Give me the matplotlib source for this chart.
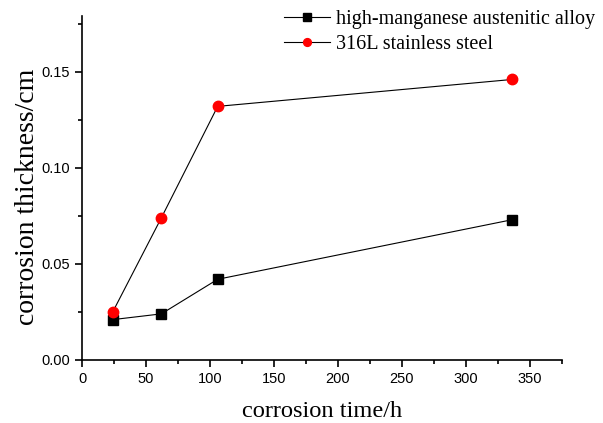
import matplotlib
matplotlib.use("Agg")
import matplotlib.pyplot as plt
from matplotlib.ticker import MultipleLocator, FormatStrFormatter

time_h = [24, 62, 106, 336]
high_mn = [0.021, 0.024, 0.042, 0.073]
ss316l = [0.025, 0.074, 0.132, 0.146]

fig = plt.figure(figsize=(6.03, 4.23), dpi=100)
ax = fig.add_axes([0.136, 0.149, 0.796, 0.813])

ax.plot(time_h, high_mn, color="black", lw=0.8, marker="s", ms=7,
        mfc="black", mec="black", label="high-manganese austenitic alloy")
ax.plot(time_h, ss316l, color="black", lw=0.8, marker="o", ms=7.5,
        mfc="red", mec="red", label="316L stainless steel")

ax.set_xlim(0, 375)
ax.set_ylim(0, 0.179)
ax.xaxis.set_major_locator(MultipleLocator(50))
ax.xaxis.set_minor_locator(MultipleLocator(25))
ax.yaxis.set_major_locator(MultipleLocator(0.05))
ax.yaxis.set_minor_locator(MultipleLocator(0.025))
ax.yaxis.set_major_formatter(FormatStrFormatter("%.2f"))

for side in ["top", "right"]:
    ax.spines[side].set_visible(False)
for side in ["left", "bottom"]:
    ax.spines[side].set_linewidth(1.2)
ax.tick_params(which="major", direction="out", length=5, width=1.2,
               labelsize=10.5)
ax.tick_params(which="minor", direction="out", length=3, width=1.2)
for lab in ax.get_xticklabels() + ax.get_yticklabels():
    lab.set_family("Liberation Sans")

ax.set_xlabel("corrosion time/h", family="Liberation Serif", fontsize=17.6,
              labelpad=11)
ax.set_ylabel("corrosion thickness/cm", family="Liberation Serif",
              fontsize=20)
ax.yaxis.set_label_coords(-0.088, 0.474)

leg = ax.legend(loc="upper right", bbox_to_anchor=(1.0, 0.995),
                bbox_transform=fig.transFigure, frameon=False,
                prop={"family": "Liberation Serif", "size": 14.5},
                handlelength=2.25, handletextpad=0.3, labelspacing=0.3,
                borderaxespad=0, markerscale=0.75)

fig.savefig("out.png", dpi=100)
